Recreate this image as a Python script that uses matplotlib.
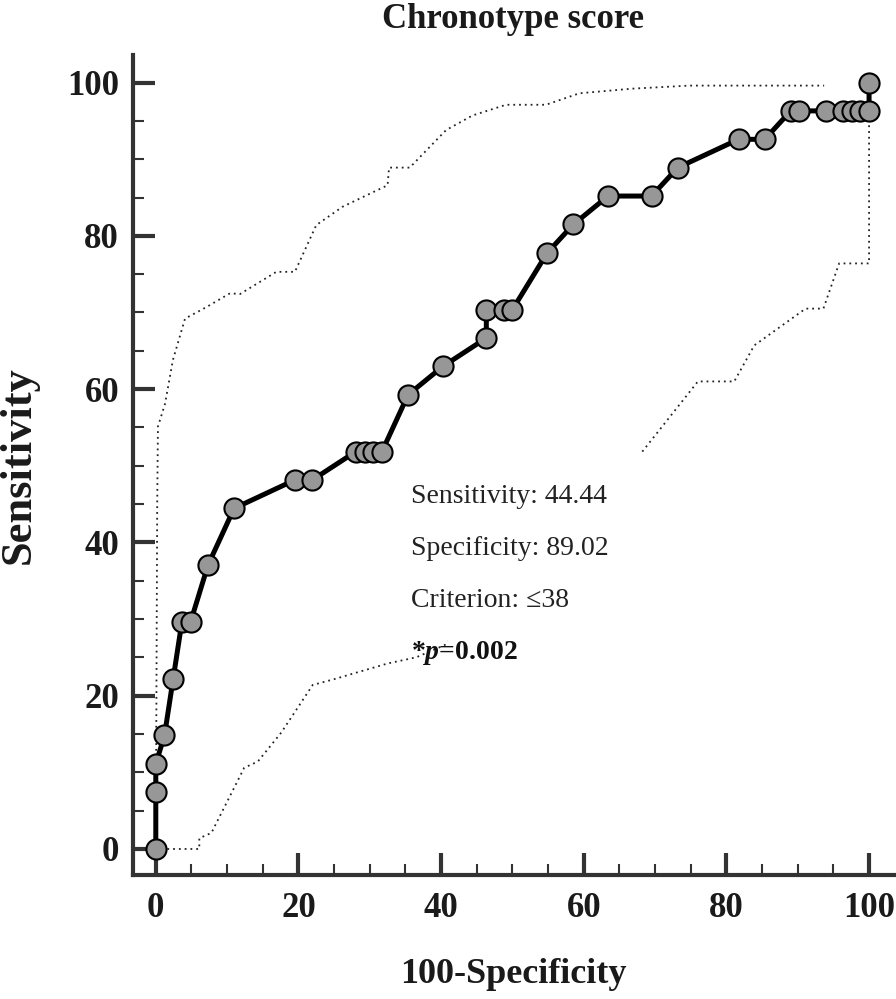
"""ROC curve for the chronotype score, with its 95% confidence bands."""

import matplotlib
matplotlib.use("Agg")
import matplotlib.pyplot as plt
from matplotlib.patches import Rectangle
from matplotlib.ticker import MultipleLocator

# ROC points (100-Specificity, Sensitivity)
roc_fpr = [0, 0, 0, 1.22, 2.44, 3.66, 4.88, 7.32, 10.98, 19.51, 21.95,
           28.05, 29.27, 30.49, 31.71, 35.37, 40.24, 46.34, 46.34, 48.78, 50.0,
           54.88, 58.54, 63.41, 69.51, 73.17, 81.71, 85.37, 89.02, 90.24, 93.90,
           96.34, 97.56, 98.78, 100, 100]
roc_sens = [0, 7.41, 11.11, 14.81, 22.22, 29.63, 29.63, 37.04, 44.44, 48.15, 48.15,
            51.85, 51.85, 51.85, 51.85, 59.26, 62.96, 66.67, 70.37, 70.37, 70.37,
            77.78, 81.48, 85.19, 85.19, 88.89, 92.59, 92.59, 96.30, 96.30, 96.30,
            96.30, 96.30, 96.30, 96.30, 100]

# confidence bands
upper_x = [0, 0.2, 0.3, 1.3, 2.4, 4.1, 7.1, 10.4, 11.8, 16.9, 19.5, 22.5, 26.2,
           32.5, 32.7, 35.6, 40.7, 44.4, 49.1, 54.7, 59.4, 66.8, 74.8, 93.7]
upper_y = [0, 45.0, 55.1, 58.1, 63.8, 69.2, 70.7, 72.5, 72.4, 75.3, 75.3, 81.4, 83.8,
           86.6, 88.9, 88.9, 93.8, 95.7, 97.1, 97.1, 98.6, 99.2, 99.6, 99.6]
lower_x = [0, 6.1, 6.1, 7.8, 12.4, 14.3, 17.6, 22.0, 24.8, 32.5, 36.5, 40.5,
           68.0, 76.0, 81.1, 83.9, 91.1, 93.6, 95.8, 100, 100]
lower_y = [0, 0, 1.4, 2.1, 10.6, 11.4, 15.2, 21.4, 22.1, 24.2, 25.0, 26.6,
           51.6, 61.0, 61.0, 65.7, 70.5, 70.5, 76.4, 76.4, 100]

stats_lines = ["Sensitivity: 44.44", "Specificity: 89.02", "Criterion: \u226438"]
p_label = "*$p$=0.002"

AXIS = "#333333"
SERIF = "Liberation Serif"

plt.rcParams.update(
    {
        "font.family": SERIF,
        "mathtext.fontset": "custom",
        "mathtext.it": "Liberation Serif:italic:bold",
        "mathtext.rm": "Liberation Serif:bold",
        "mathtext.bf": "Liberation Serif:bold",
    }
)

fig = plt.figure(figsize=(8.96, 9.99), dpi=100)
ax = fig.add_axes([0.1484, 0.1241, 0.8494, 0.8209])

ax.plot(upper_x, upper_y, linestyle=(0, (1, 2.2)), color="#222222", linewidth=1.3, zorder=2)
ax.plot(lower_x, lower_y, linestyle=(0, (1, 2.2)), color="#222222", linewidth=1.3, zorder=2)

# text panel hides the band behind the statistics, as in the source figure
ax.add_patch(Rectangle((41, 20), 27.3, 31.8, facecolor="white", edgecolor="none", zorder=2.5))

ax.plot(roc_fpr, roc_sens, color="black", linewidth=3.6, marker="o", markersize=14.5,
        markerfacecolor="#979797", markeredgecolor="black", markeredgewidth=1.5, zorder=3)

for i, line in enumerate(stats_lines):
    ax.text(35.85, 45.15 - i * 6.8, line, fontsize=20, color="#222222",
            ha="left", va="baseline", zorder=4)
ax.text(35.85, 45.15 - 3 * 6.8, p_label, fontsize=20, fontweight="bold", color="#111111",
        ha="left", va="baseline", zorder=4)

ax.set_xlim(-3.2, 103.5)
ax.set_ylim(-3.4, 103.6)
ax.xaxis.set_major_locator(MultipleLocator(20))
ax.xaxis.set_minor_locator(MultipleLocator(5))
ax.yaxis.set_major_locator(MultipleLocator(20))
ax.yaxis.set_minor_locator(MultipleLocator(5))
ax.set_xticks(range(0, 101, 20))
ax.set_yticks(range(0, 101, 20))

for side in ("top", "right"):
    ax.spines[side].set_visible(False)
for side in ("left", "bottom"):
    ax.spines[side].set_linewidth(3)
    ax.spines[side].set_color(AXIS)

ax.tick_params(which="major", direction="in", length=16, width=3, color=AXIS,
               labelsize=25, pad=10)
ax.tick_params(axis="x", which="major", pad=12)
ax.tick_params(which="minor", direction="in", length=8, width=1.5, color=AXIS)
for lab in ax.get_xticklabels() + ax.get_yticklabels():
    lab.set_fontweight("bold")
    lab.set_color("#1a1a1a")

ax.set_xlabel("100-Specificity", fontsize=26, fontweight="bold", color="#1a1a1a")
ax.set_ylabel("Sensitivity", fontsize=32, fontweight="bold", color="#1a1a1a")
ax.xaxis.set_label_coords(0.5, -0.101)
ax.yaxis.set_label_coords(-0.124, 0.5)

fig.text(0.5731, 0.997, "Chronotype score", ha="center", va="top",
         fontsize=25, fontweight="bold", color="#1a1a1a")

fig.savefig("out.png", dpi=100)
